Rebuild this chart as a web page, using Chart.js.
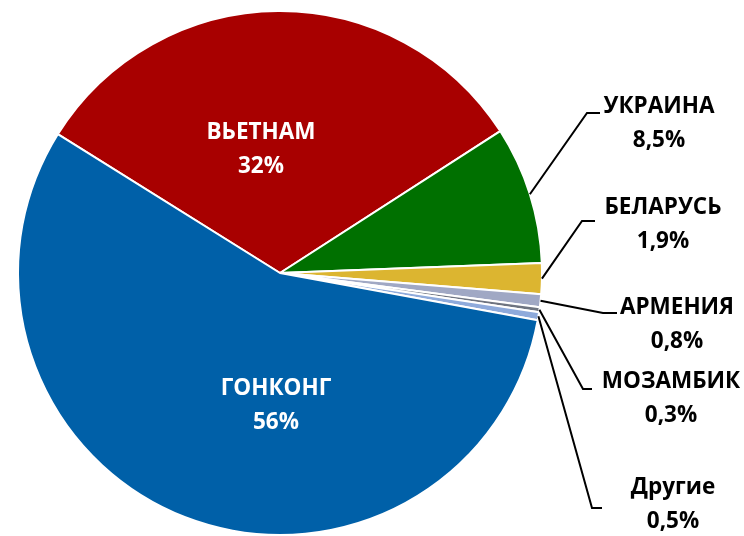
<!DOCTYPE html>
<html>
<head>
<meta charset="utf-8">
<style>
  html, body { margin: 0; padding: 0; background: #ffffff; }
  #wrap { width: 744px; height: 536px; }
</style>
</head>
<body>
<div id="wrap"><canvas id="myChart" width="744" height="536"></canvas></div>
<script src="https://cdn.jsdelivr.net/npm/chart.js"></script>
<script>
// data
const countries = ['ВЬЕТНАМ', 'УКРАИНА', 'БЕЛАРУСЬ', 'АРМЕНИЯ', 'МОЗАМБИК', 'Другие', 'ГОНКОНГ']
const shares = [32, 8.5, 1.9, 0.8, 0.3, 0.5, 56]
const colors = ['#a80000', '#007000', '#dcb530', '#a0a8c4', '#6e7480', '#8eaadb', '#0060a8']

// label layout: text centre (name line), and leader elbow for outside labels
const labelSpots = [
  {x: 261, y: 133, inside: true},
  {x: 659, y: 107, elbow: [587, 113], end: [600, 113]},
  {x: 663, y: 208, elbow: [582, 221], end: [595, 221]},
  {x: 677, y: 308, elbow: [603, 313], end: [617, 313]},
  {x: 671, y: 382, elbow: [583, 389], end: [592, 389]},
  {x: 673, y: 488, elbow: [592, 508], end: [602, 508]},
  {x: 276, y: 389, inside: true}
]

const fmt = v => (Number.isInteger(v) ? String(v) : String(v).replace('.', ',')) + '%'

const pieLabels = {
  id: 'pieLabels',
  afterDatasetsDraw(chart) {
    const ctx = chart.ctx
    const arcs = chart.getDatasetMeta(0).data
    ctx.save()
    ctx.font = 'bold 22.5px "Open Sans", sans-serif'
    ctx.textAlign = 'center'
    ctx.textBaseline = 'middle'
    arcs.forEach((arc, i) => {
      const spot = labelSpots[i]
      const p = arc.getProps(['x', 'y', 'startAngle', 'endAngle', 'outerRadius'], true)
      if (!spot.inside) {
        const mid = (p.startAngle + p.endAngle) / 2
        ctx.beginPath()
        ctx.moveTo(p.x + Math.cos(mid) * p.outerRadius, p.y + Math.sin(mid) * p.outerRadius)
        ctx.lineTo(spot.elbow[0], spot.elbow[1])
        ctx.lineTo(spot.end[0], spot.end[1])
        ctx.strokeStyle = '#000000'
        ctx.lineWidth = 2
        ctx.stroke()
      }
      ctx.fillStyle = spot.inside ? '#ffffff' : '#000000'
      ctx.fillText(countries[i], spot.x, spot.y)
      ctx.fillText(fmt(shares[i]), spot.x, spot.y + 34)
    })
    ctx.restore()
  }
}

new Chart(document.getElementById('myChart'), {
  type: 'pie',
  data: {
    labels: countries,
    datasets: [{
      data: shares,
      backgroundColor: colors,
      borderColor: '#ffffff',
      borderWidth: 2
    }]
  },
  options: {
    responsive: false,
    animation: false,
    rotation: -58,
    layout: {padding: {left: 17, right: 201, top: 10, bottom: 0}},
    plugins: {
      legend: {display: false},
      tooltip: {enabled: false}
    }
  },
  plugins: [pieLabels]
})
</script>
</body>
</html>
